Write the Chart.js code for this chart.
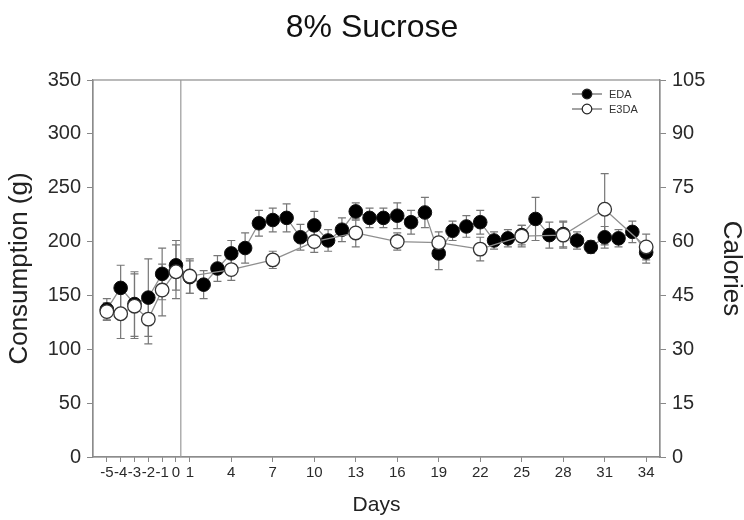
<!DOCTYPE html>
<html>
<head>
<meta charset="utf-8">
<script src="https://cdn.jsdelivr.net/npm/chart.js@4/dist/chart.umd.min.js"></script>
<style>
html,body{margin:0;padding:0;background:#fff;}
#wrap{width:744px;height:520px;}
</style>
</head>
<body>
<div id="wrap"><canvas id="c" width="744" height="520"></canvas></div>
<script>
const titleText = "8% Sucrose";
const xTicks = [-5,-4,-3,-2,-1,0,1,4,7,10,13,16,19,22,25,28,31,34];
const leftTicks = [0,50,100,150,200,250,300,350];
const rightTicks = [0,15,30,45,60,75,90,105];

const edaDays = [-5,-4,-3,-2,-1,0,1,2,3,4,5,6,7,8,9,10,11,12,13,14,15,16,17,18,19,20,21,22,23,24,25,26,27,28,29,30,31,32,33,34];
const edaValues = [137,157,142,148,170,178,167,160,175,189,194,217,220,222,204,215,201,211,228,222,222,224,218,227,189,210,214,218,201,203,206,221,206,207,201,195,204,203,209,190];
const edaErrors = [10,21,30,36,24,23,15,13,12,12,14,12,11,13,12,13,10,11,8,9,9,12,11,14,15,9,10,11,8,8,9,20,12,12,8,6,10,8,10,10];

const e3daDays = [-5,-4,-3,-2,-1,0,1,4,7,10,13,16,19,22,25,28,31,34];
const e3daValues = [135,133,140,128,155,172,168,174,183,200,208,200,199,193,205,206,230,195];
const e3daErrors = [8,23,30,23,24,25,16,10,8,10,13,8,10,11,10,12,33,12];

const markerLine = 0.35; // vertical reference line position (days)

const toPts = (xs, ys, es) => xs.map((x,i)=>({x:x, y:ys[i], e:es[i]}));

const errorBars = {
  id:'errorBars',
  beforeDatasetsDraw(chart){
    const ctx = chart.ctx, xs = chart.scales.x, ys = chart.scales.y;
    ctx.save();
    ctx.strokeStyle = '#777';
    ctx.lineWidth = 1.2;
    chart.data.datasets.forEach(ds=>{
      ds.data.forEach(p=>{
        const px = xs.getPixelForValue(p.x);
        const top = ys.getPixelForValue(p.y + p.e);
        const bot = ys.getPixelForValue(p.y - p.e);
        ctx.beginPath();
        ctx.moveTo(px, top); ctx.lineTo(px, bot);
        ctx.moveTo(px-4, top); ctx.lineTo(px+4, top);
        ctx.moveTo(px-4, bot); ctx.lineTo(px+4, bot);
        ctx.stroke();
      });
    });
    ctx.restore();
  }
};

const frame = {
  id:'frame',
  beforeDatasetsDraw(chart){
    const ctx = chart.ctx, a = chart.chartArea, xs = chart.scales.x;
    ctx.save();
    ctx.strokeStyle = '#8c8c8c';
    ctx.lineWidth = 1.2;
    ctx.strokeRect(a.left, a.top, a.right-a.left, a.bottom-a.top);
    const vx = xs.getPixelForValue(markerLine);
    ctx.strokeStyle = '#9a9a9a';
    ctx.beginPath(); ctx.moveTo(vx, a.top); ctx.lineTo(vx, a.bottom); ctx.stroke();
    ctx.restore();
  },
  afterDraw(chart){
    const ctx = chart.ctx;
    ctx.save();
    const items = [
      {label:'EDA', fill:'#000', y:94},
      {label:'E3DA', fill:'#fff', y:109}
    ];
    items.forEach(it=>{
      ctx.strokeStyle='#666'; ctx.lineWidth=1.2;
      ctx.beginPath(); ctx.moveTo(572,it.y); ctx.lineTo(602,it.y); ctx.stroke();
      ctx.beginPath(); ctx.arc(587,it.y,4.8,0,Math.PI*2);
      ctx.fillStyle=it.fill; ctx.fill();
      ctx.strokeStyle='#222'; ctx.stroke();
      ctx.fillStyle='#333'; ctx.font='11px "Liberation Sans", Arial, sans-serif';
      ctx.textBaseline='middle'; ctx.textAlign='left';
      ctx.fillText(it.label, 609, it.y+0.5);
    });
    ctx.restore();
  }
};

const fam = '"Liberation Sans", Arial, sans-serif';
const tickColor = '#2a2a2a';

new Chart(document.getElementById('c'), {
  type:'line',
  data:{
    datasets:[
      {label:'E3DA', data:toPts(e3daDays,e3daValues,e3daErrors), order:1,
       borderColor:'#8f8f8f', borderWidth:1.3, pointRadius:6.8, pointBackgroundColor:'#fff',
       pointBorderColor:'#333', pointBorderWidth:1.3, tension:0, yAxisID:'y'},
      {label:'EDA', data:toPts(edaDays,edaValues,edaErrors), order:2,
       borderColor:'#8f8f8f', borderWidth:1.3, pointRadius:6.8, pointBackgroundColor:'#000',
       pointBorderColor:'#111', pointBorderWidth:1, tension:0, yAxisID:'y'}
    ]
  },
  options:{
    responsive:false, animation:false, devicePixelRatio:1,
    layout:{padding:0},
    plugins:{
      legend:{display:false}, tooltip:{enabled:false},
      title:{display:true, text:titleText, color:'#111',
        font:{family:fam, size:32, weight:'normal', lineHeight:1.2},
        padding:{top:9, bottom:32.6}}
    },
    scales:{
      x:{type:'linear', min:-6, max:35,
        afterBuildTicks(s){ s.ticks = xTicks.map(v=>({value:v})); },
        afterFit(s){ s.height = 63; },
        ticks:{autoSkip:false, maxRotation:0, minRotation:0, color:tickColor,
          font:{family:fam, size:15}, padding:2, callback:v=>String(v)},
        grid:{display:true, drawOnChartArea:false, drawTicks:true, tickLength:5, color:'#888'},
        border:{display:true, color:'#8c8c8c', width:1.2},
        title:{display:true, text:'Days', color:'#222', font:{family:fam, size:21, lineHeight:1.2}, padding:{top:2,bottom:2}}
      },
      y:{type:'linear', position:'left', min:0, max:350,
        afterBuildTicks(s){ s.ticks = leftTicks.map(v=>({value:v})); },
        afterFit(s){ s.width = 93; },
        ticks:{color:tickColor, font:{family:fam, size:20}, padding:6},
        grid:{display:true, drawOnChartArea:false, drawTicks:true, tickLength:6, color:'#888'},
        border:{display:true, color:'#8c8c8c', width:1.2},
        title:{display:true, text:'Consumption (g)', color:'#222', font:{family:fam, size:26, lineHeight:1}, padding:{top:7,bottom:0}}
      },
      y2:{type:'linear', position:'right', min:0, max:105,
        afterBuildTicks(s){ s.ticks = rightTicks.map(v=>({value:v})); },
        afterFit(s){ s.width = 84; },
        ticks:{color:tickColor, font:{family:fam, size:20}, padding:6},
        grid:{display:true, drawOnChartArea:false, drawTicks:true, tickLength:6, color:'#888'},
        border:{display:true, color:'#8c8c8c', width:1.2},
        title:{display:true, text:'Calories', color:'#222', font:{family:fam, size:26, lineHeight:1}, padding:{top:0,bottom:0}}
      }
    }
  },
  plugins:[errorBars, frame]
});
</script>
</body>
</html>
